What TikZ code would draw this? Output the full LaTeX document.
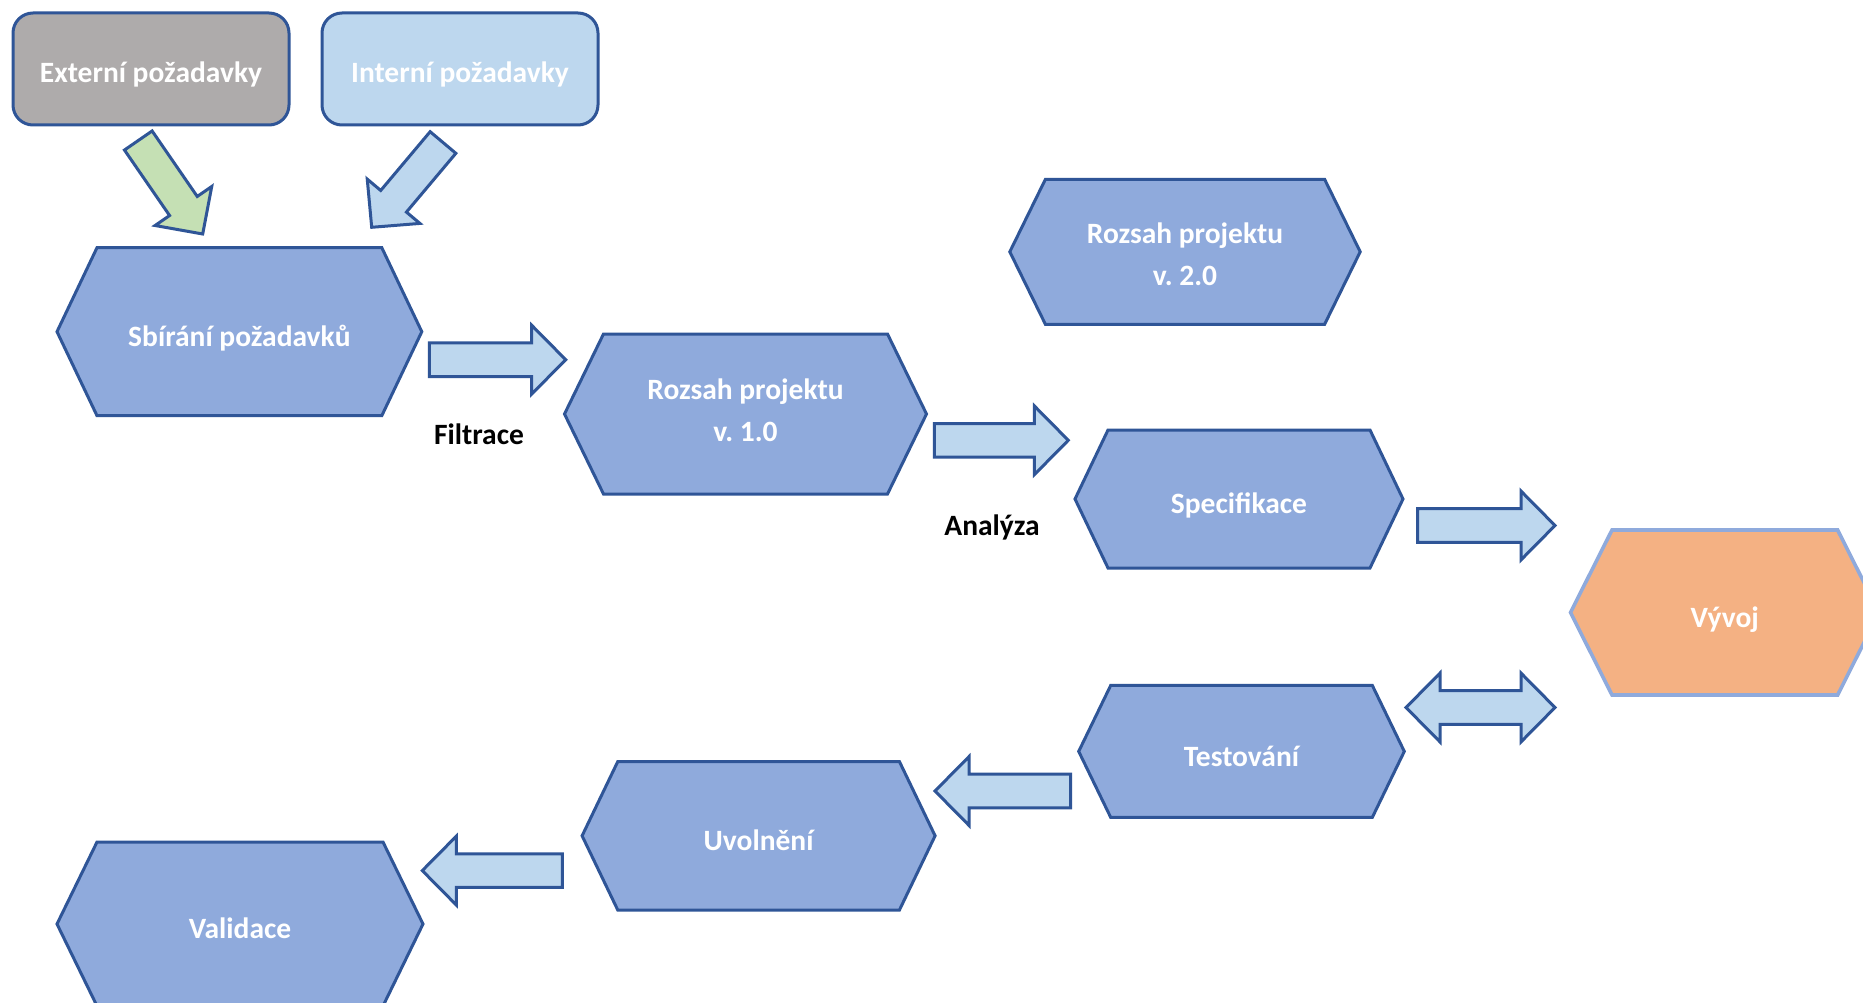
\documentclass[tikz,border=0pt]{standalone}
\usepackage{fontspec}
\setmainfont{Carlito}
\usetikzlibrary{calc}

\definecolor{hexfill}{HTML}{8FAADC}
\definecolor{edgeblue}{HTML}{2F5597}
\definecolor{arrowfill}{HTML}{BDD7EE}
\definecolor{greenfill}{HTML}{C5E0B4}
\definecolor{grayfill}{HTML}{AEABAB}
\definecolor{orangefill}{HTML}{F4B183}

\tikzset{
  hexshape/.style={fill=hexfill, draw=edgeblue, line width=3pt},
  devshape/.style={fill=orangefill, draw=hexfill, line width=3.6pt},
  boldtext/.style={font=\fontsize{29.5}{42}\selectfont\bfseries\frenchspacing},
  hexlabel/.style={boldtext, text=white, align=center, inner sep=0pt,
    text height=29.4pt, text depth=0pt},
  reqbox/.style={boldtext, text=white, draw=edgeblue, line width=3pt,
    rounded corners=20pt, minimum width=276pt, minimum height=112pt, inner sep=0pt,
    text height=27.4pt, text depth=0pt},
  arrowshape/.style={fill=arrowfill, draw=edgeblue, line width=3pt},
  steplabel/.style={boldtext, text=black, anchor=base, inner sep=0pt},
  % two-line labels keep their natural height
  lbl scope1/.style={text height=, text depth=, yshift=3.5pt},
  lbl scope2/.style={text height=, text depth=, yshift=-2.5pt},
}

% hexagon: [style] {cx}{cy}{half width}{half height}{indent}{name}{text}
\newcommand{\hexa}[8][hexshape]{%
  \draw[#1] ({#2-#4},#3) -- ({#2-#4+#6},{#3-#5}) -- ({#2+#4-#6},{#3-#5})
    -- ({#2+#4},#3) -- ({#2+#4-#6},{#3+#5}) -- ({#2-#4+#6},{#3+#5}) -- cycle;
  \node[hexlabel, lbl #7/.try] (#7) at (#2,#3) {#8};
}

\newcommand{\shaftw}{16.8pt}
\newcommand{\headw}{34.4pt}
\newcommand{\headl}{34pt}

% block arrow from coordinate #2 to coordinate #3
\newcommand{\blockarrow}[3][]{%
  \coordinate (#3-head) at ($(#3)!\headl!(#2)$);
  \draw[arrowshape,#1] ($(#2)!\shaftw!90:(#3)$) -- ($(#3-head)!\shaftw!-90:(#2)$)
    -- ($(#3-head)!\headw!-90:(#2)$) -- (#3) -- ($(#3-head)!\headw!90:(#2)$)
    -- ($(#3-head)!\shaftw!90:(#2)$) -- ($(#2)!\shaftw!-90:(#3)$) -- cycle;
}

% block arrow with heads at both ends
\newcommand{\doublearrow}[3][]{%
  \coordinate (#2-head) at ($(#2)!\headl!(#3)$);
  \coordinate (#3-head) at ($(#3)!\headl!(#2)$);
  \draw[arrowshape,#1] (#2) -- ($(#2-head)!\headw!90:(#3)$) -- ($(#2-head)!\shaftw!90:(#3)$)
    -- ($(#3-head)!\shaftw!-90:(#2)$) -- ($(#3-head)!\headw!-90:(#2)$) -- (#3)
    -- ($(#3-head)!\headw!90:(#2)$) -- ($(#3-head)!\shaftw!90:(#2)$)
    -- ($(#2-head)!\shaftw!-90:(#3)$) -- ($(#2-head)!\headw!-90:(#3)$) -- cycle;
}

\begin{document}
\begin{tikzpicture}[x=1pt, y=-1pt, line join=miter]
  \fill[white] (0,0) rectangle (1863,1003);
  \useasboundingbox (0,0) rectangle (1863,1003);
  \clip (0,0) rectangle (1863,1003);

  % requirement sources
  \node[reqbox, fill=grayfill] (ext) at (151,69) {Externí požadavky};
  \node[reqbox, fill=arrowfill] (int) at (460,69) {Interní požadavky};

  % process steps
  \hexa{239.4}{331.7}{182.4}{84}{40}{collect}{Sbírání požadavků}
  \hexa{745.5}{414}{181}{80}{39}{scope1}{Rozsah projektu\\v. 1.0}
  \hexa{1185}{251.8}{175.2}{72.5}{35.6}{scope2}{Rozsah projektu\\v. 2.0}
  \hexa{1239}{499}{164}{69}{33}{spec}{Specifikace}
  \hexa[devshape]{1724.8}{612.5}{154.3}{82.5}{41.5}{dev}{Vývoj}
  \hexa{1241.5}{751.4}{162.8}{66}{32}{test}{Testování}
  \hexa{758.6}{835.8}{176.5}{74.3}{35.7}{release}{Uvolnění}
  \hexa{240}{924}{183}{82}{40}{valid}{Validace}

  % arrow end points
  \coordinate (extS) at (138.3,140.5);  \coordinate (extE) at (202.7,234);
  \coordinate (intS) at (443,142.5);    \coordinate (intE) at (371.7,227.3);
  \coordinate (filtS) at (429.3,359.7); \coordinate (filtE) at (565.7,359.7);
  \coordinate (anS) at (934.3,440.3);   \coordinate (anE) at (1068.3,440.3);
  \coordinate (devS) at (1417.7,525.5); \coordinate (devE) at (1555,525.5);
  \coordinate (tstA) at (1406,707.5);   \coordinate (tstB) at (1555,707.5);
  \coordinate (relS) at (1070.7,791);   \coordinate (relE) at (935,791);
  \coordinate (valS) at (562.3,870.6);  \coordinate (valE) at (422.3,870.6);

  \blockarrow[fill=greenfill]{extS}{extE}
  \blockarrow{intS}{intE}
  \blockarrow{filtS}{filtE}
  \blockarrow{anS}{anE}
  \blockarrow{devS}{devE}
  \doublearrow{tstA}{tstB}
  \blockarrow{relS}{relE}
  \blockarrow{valS}{valE}

  % arrow labels
  \node[steplabel] (filtr) at (479,444.3) {Filtrace};
  \node[steplabel] (analy) at (992,535) {Analýza};
\end{tikzpicture}
\end{document}
